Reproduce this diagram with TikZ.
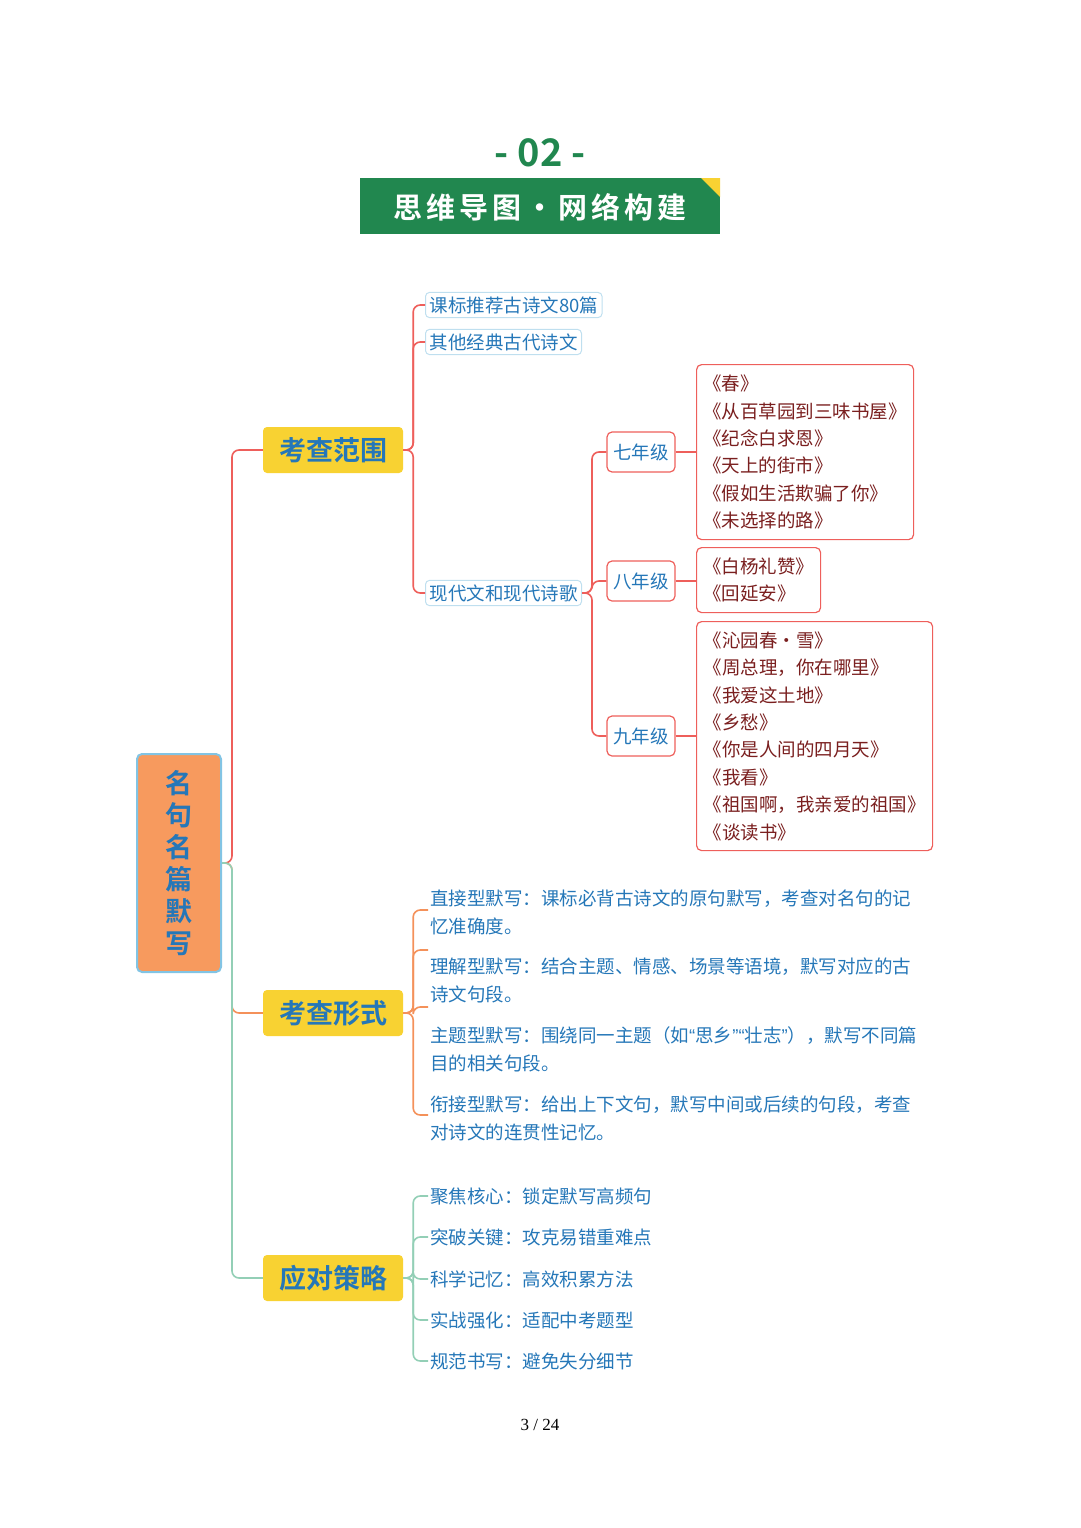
\documentclass[tikz,border=0pt]{standalone}
\usepackage{fontspec}
\setmainfont{Liberation Serif}
\newfontfamily\cjk{Noto Sans CJK SC}
\newfontfamily\cjkb{Noto Sans CJK SC Bold}
\newfontfamily\qfont{Liberation Sans}
\newcommand{\myLQ}{{\qfont “}}
\newcommand{\myRQ}{{\qfont ”}}
\definecolor{bgreen}{HTML}{21874F}
\definecolor{tblue}{HTML}{2577B8}
\definecolor{lred}{HTML}{EE5F5B}
\definecolor{lorange}{HTML}{F4915A}
\definecolor{lgreen}{HTML}{93CFB6}
\definecolor{yel}{HTML}{F8D232}
\definecolor{rootfill}{HTML}{F79A5E}
\definecolor{rootborder}{HTML}{82C4E4}
\definecolor{bookred}{HTML}{7A1F1F}
\definecolor{lbb}{HTML}{BFDFEF}
\begin{document}
\begin{tikzpicture}[x=1pt,y=-1pt,
  main/.style={fill=yel,rounded corners=4,minimum width=140,minimum height=46,inner sep=0,font=\cjkb\fontsize{27}{30}\selectfont,text=tblue},
  leaf/.style={draw=lbb,line width=1,rounded corners=4,inner sep=4,font=\cjk\fontsize{18.5}{20}\selectfont,text=tblue,anchor=west},
  grade/.style={draw=lred,line width=1.2,rounded corners=5,minimum width=68,minimum height=40,inner sep=0,font=\cjk\fontsize{18.5}{20}\selectfont,text=tblue},
  books/.style={draw=lred,line width=1.2,rounded corners=5,inner xsep=4,inner ysep=8,align=left,anchor=north west,font=\cjk\fontsize{18.5}{27.4}\selectfont,text=bookred},
  txt/.style={anchor=west,align=left,inner sep=2,font=\cjk\fontsize{18.5}{28}\selectfont,text=tblue},
  rl/.style={draw=lred,line width=1.6,rounded corners=7},
  ol/.style={draw=lorange,line width=1.6,rounded corners=7},
  gl/.style={draw=lgreen,line width=1.6,rounded corners=7}]
\useasboundingbox (0,0) rectangle (1080,1528);
\node (num) at (540,153) {\fontsize{38}{40}\selectfont\cjkb\color{bgreen}- 02 -};
\fill[bgreen] (360,178) rectangle (720,234);
\fill[yel] (701,178) -- (720,178) -- (720,197) -- cycle;
\node (title) at (540,207) {\cjkb\fontsize{29}{30}\selectfont\color{white}思\hspace{4pt}维\hspace{4pt}导\hspace{4pt}图\hspace{4pt}·\hspace{4pt}网\hspace{4pt}络\hspace{4pt}构\hspace{4pt}建};
\node[fill=rootfill,draw=rootborder,line width=2,rounded corners=5,minimum width=84,minimum height=218,inner sep=0,font=\cjkb\fontsize{27}{32}\selectfont,text=tblue,align=center] (root) at (179,863) {名\\句\\名\\篇\\默\\写};
\node[main] (a) at (333,450) {考查范围};
\node[main] (b) at (333,1013) {考查形式};
\node[main] (c) at (333,1278) {应对策略};
\draw[rl] (root.east) -- ++(10,0) |- (a.west);
\draw[ol] (root.east) -- ++(10,0) |- (b.west);
\draw[gl] (root.east) -- ++(10,0) |- (c.west);
% range
\node[leaf] (a1) at (425,305) {课标推荐古诗文80篇};
\node[leaf] (a2) at (425,342) {其他经典古代诗文};
\node[leaf] (a3) at (425,593) {现代文和现代诗歌};
\foreach \n in {a1,a2,a3} \draw[rl] (a.east) -- ++(10,0) |- (\n.west);
\node[grade] (g7) at (641,452) {七年级};
\node[grade] (g8) at (641,581) {八年级};
\node[grade] (g9) at (641,736) {九年级};
\foreach \n in {g7,g8,g9} \draw[rl] (a3.east) -- ++(10,0) |- (\n.west);
\node[books,minimum width=217,minimum height=175] (k7) at (696,364) {《春》\\《从百草园到三味书屋》\\《纪念白求恩》\\《天上的街市》\\《假如生活欺骗了你》\\《未选择的路》};
\node[books,minimum width=124,minimum height=65] (k8) at (696,547) {《白杨礼赞》\\《回延安》};
\node[books,minimum width=236,minimum height=229] (k9) at (696,621) {《沁园春·雪》\\《周总理，你在哪里》\\《我爱这土地》\\《乡愁》\\《你是人间的四月天》\\《我看》\\《祖国啊，我亲爱的祖国》\\《谈读书》};
\draw[rl,rounded corners=0] (g7.east) -- (k7.west|-g7.east);
\draw[rl,rounded corners=0] (g8.east) -- (k8.west|-g8.east);
\draw[rl,rounded corners=0] (g9.east) -- (k9.west|-g9.east);
% forms
\node[txt] (b1) at (428,912) {直接型默写：课标必背古诗文的原句默写，考查对名句的记\\忆准确度。};
\node[txt] (b2) at (428,980) {理解型默写：结合主题、情感、场景等语境，默写对应的古\\诗文句段。};
\node[txt] (b3) at (428,1049) {主题型默写：围绕同一主题（如\myLQ 思乡\myRQ\myLQ 壮志\myRQ），默写不同篇\\目的相关句段。};
\node[txt] (b4) at (428,1118) {衔接型默写：给出上下文句，默写中间或后续的句段，考查\\对诗文的连贯性记忆。};
\foreach \n/\y in {b1/910,b2/950,b3/1007,b4/1115} \draw[ol] (b.east) -- ++(10,0) |- (428,\y);
% strategy
\node[txt] (c1) at (428,1196) {聚焦核心：锁定默写高频句};
\node[txt] (c2) at (428,1237) {突破关键：攻克易错重难点};
\node[txt] (c3) at (428,1279) {科学记忆：高效积累方法};
\node[txt] (c4) at (428,1320) {实战强化：适配中考题型};
\node[txt] (c5) at (428,1361) {规范书写：避免失分细节};
\foreach \n in {c1,c2,c3,c4,c5} \draw[gl] (c.east) -- ++(10,0) |- (\n.west);
\node (page) at (540,1425) {\fontsize{17}{20}\selectfont 3 / 24};
\end{tikzpicture}
\end{document}
